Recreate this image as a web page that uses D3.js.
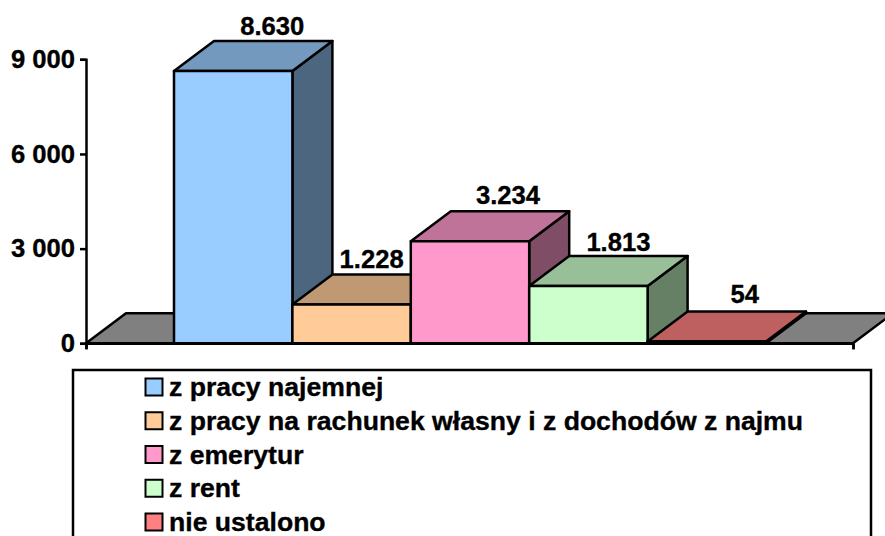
<!DOCTYPE html>
<html>
<head>
<meta charset="utf-8">
<script src="https://cdnjs.cloudflare.com/ajax/libs/d3/7.8.5/d3.min.js"></script>
<style>
  html, body { margin: 0; padding: 0; background: #fff; overflow: hidden; }
  text { font-family: "Liberation Sans", Arial, sans-serif; font-weight: bold; fill: #000; stroke: #000; stroke-width: 0.35px; }
</style>
</head>
<body>
<svg id="chart" width="885" height="536"></svg>
<script>
const categories = ["z pracy najemnej", "z pracy na rachunek własny i z dochodów z najmu", "z emerytur", "z rent", "nie ustalono"];
const values = [8630, 1228, 3234, 1813, 54];
const valueLabels = ["8.630", "1.228", "3.234", "1.813", "54"];
const colors = ["#99ccff", "#ffcc99", "#ff99cc", "#ccffcc", "#ff8080"];
const yTicks = [0, 3000, 6000, 9000];

const svg = d3.select("#chart");
const depthX = 40;
const depthY = 30;
const strokeW = 2.5;
// the original placed its labels by hand, so they sit a bit differently per bar
const labelDx = [39, 20, 38, 30, 38];
const labelDy = [6, 7, 7, 5, 9];

const yScale = d3.scaleLinear().domain([0, 9000]).range([343.3, 59.3]);
const xScale = d3.scaleBand().domain(categories).range([174, 766]);
const x0 = 86;
const x1 = 853;
const y0 = yScale(0);

function poly(points, fill) {
  svg.append("polygon")
    .attr("points", points.map((p) => p.join(",")).join(" "))
    .attr("fill", fill)
    .attr("stroke", "#000")
    .attr("stroke-width", strokeW)
    .attr("stroke-linejoin", "round");
}

// floor of the 3d box, the bars cover the middle part
poly([[x0, y0], [x0 + depthX, y0 - depthY], [x1 + depthX, y0 - depthY], [x1, y0]], "#808080");

// y axis
const yAxis = d3.axisLeft(yScale)
  .tickValues(yTicks)
  .tickSize(6)
  .tickPadding(5)
  .tickFormat((d) => d3.format(",")(d).replace(",", " "));

const yG = svg.append("g").attr("transform", `translate(${x0},0)`).call(yAxis);
yG.select(".domain").attr("stroke-width", strokeW);
yG.selectAll(".tick line").attr("stroke-width", strokeW);
yG.selectAll("text").style("font-size", "25.6px").attr("fill", "#000");

// x axis is just a line with a tick at both ends
const xAxis = d3.axisBottom(d3.scaleLinear().domain([0, 1]).range([x0, x1]))
  .tickValues([0, 1])
  .tickSize(6)
  .tickFormat("");
const xG = svg.append("g").attr("transform", `translate(0,${y0})`).call(xAxis);
xG.select(".domain").attr("stroke-width", strokeW);
xG.selectAll(".tick line").attr("stroke-width", strokeW);

// bars, left to right so each one covers the side of the previous one
categories.forEach((c, i) => {
  const left = xScale(c);
  const right = left + xScale.bandwidth();
  const top = yScale(values[i]);
  const mix = (k) => {
    const col = d3.rgb(colors[i]);
    return d3.rgb(col.r * k, col.g * k, col.b * k).formatHex();
  };
  poly([[right, y0], [right + depthX, y0 - depthY], [right + depthX, top - depthY], [right, top]], mix(0.5));
  poly([[left, top], [left + depthX, top - depthY], [right + depthX, top - depthY], [right, top]], mix(0.75));
  poly([[left, y0], [left, top], [right, top], [right, y0]], colors[i]);
});

// value labels go on last so no bar covers them
svg.selectAll(".value-label").data(values).enter().append("text")
  .attr("class", "value-label")
  .attr("x", (d, i) => xScale(categories[i]) + xScale.bandwidth() / 2 + labelDx[i])
  .attr("y", (d, i) => yScale(d) - depthY - labelDy[i])
  .attr("text-anchor", "middle")
  .style("font-size", "25.6px")
  .text((d, i) => valueLabels[i]);

// legend, cut off by the bottom edge in the original
svg.append("rect")
  .attr("x", 73).attr("y", 370)
  .attr("width", 798).attr("height", 190)
  .attr("fill", "#fff")
  .attr("stroke", "#000")
  .attr("stroke-width", strokeW);

const legendY = d3.scalePoint().domain(categories).range([387, 522]);
const legend = svg.selectAll(".legend-row").data(categories).enter().append("g")
  .attr("class", "legend-row")
  .attr("transform", (d) => `translate(0,${legendY(d)})`);

legend.append("rect")
  .attr("x", 145.5).attr("y", -8.5)
  .attr("width", 17).attr("height", 17)
  .attr("fill", (d, i) => colors[i])
  .attr("stroke", "#000")
  .attr("stroke-width", 2);

legend.append("text")
  .attr("x", 169)
  .attr("y", 9)
  .style("font-size", "26.6px")
  .text((d) => d);
</script>
</body>
</html>
